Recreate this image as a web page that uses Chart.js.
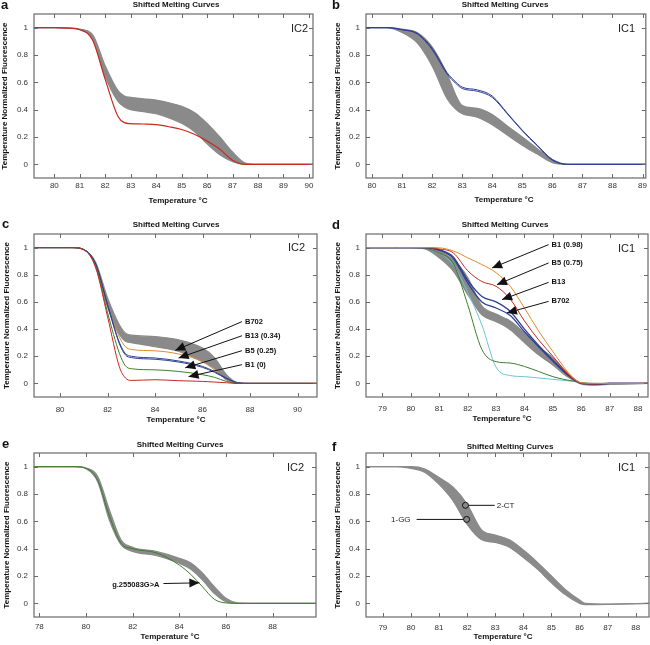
<!DOCTYPE html>
<html>
<head>
<meta charset="utf-8">
<script src="https://cdn.jsdelivr.net/npm/chart.js@4.4.0/dist/chart.umd.min.js"></script>
<style>
  body { margin: 0; background: #fff; }
  #wrap { position: relative; width: 650px; height: 645px; overflow: hidden; }
  canvas { position: absolute; }
</style>
</head>
<body>
<div id="wrap">
  <canvas id="pa" width="325" height="215" style="left:0;top:0"></canvas>
  <canvas id="pb" width="325" height="215" style="left:325px;top:0"></canvas>
  <canvas id="pc" width="325" height="215" style="left:0;top:215px"></canvas>
  <canvas id="pd" width="325" height="215" style="left:325px;top:215px"></canvas>
  <canvas id="pe" width="325" height="215" style="left:0;top:430px"></canvas>
  <canvas id="pf" width="325" height="215" style="left:325px;top:430px"></canvas>
</div>
<script>
// shared
const yTicks = [0, 0.2, 0.4, 0.6, 0.8, 1];

// a - IC2
const tempA   = [79.2, 80, 80.5, 81, 81.5, 82, 82.5, 82.75, 83, 83.5, 84, 84.5, 85, 85.5, 86, 86.5, 87, 87.5, 88, 89, 90.2];
const grayHiA = [1, 1, 0.998, 0.99, 0.95, 0.72, 0.54, 0.50, 0.49, 0.48, 0.47, 0.45, 0.425, 0.38, 0.30, 0.20, 0.09, 0.01, 0, 0, 0];
const grayLoA = [1, 1, 0.997, 0.985, 0.92, 0.64, 0.46, 0.42, 0.40, 0.385, 0.37, 0.34, 0.30, 0.24, 0.15, 0.07, 0.02, 0, 0, 0, 0];
const redA    = [1, 1, 0.997, 0.985, 0.91, 0.62, 0.35, 0.305, 0.298, 0.295, 0.29, 0.275, 0.255, 0.22, 0.17, 0.11, 0.03, 0, 0, 0, 0];
const xTicksA = [80, 81, 82, 83, 84, 85, 86, 87, 88, 89, 90];

// b - IC1
const tempB   = [79.8, 80.5, 81, 81.5, 82, 82.5, 82.8, 83, 83.5, 84, 84.5, 85, 85.5, 86, 86.5, 87, 88, 89.2];
const grayHiB = [1, 1, 0.99, 0.965, 0.86, 0.66, 0.50, 0.43, 0.41, 0.365, 0.28, 0.20, 0.115, 0.035, 0, 0, 0, 0];
const grayLoB = [1, 1, 0.965, 0.89, 0.72, 0.48, 0.40, 0.37, 0.345, 0.29, 0.215, 0.14, 0.075, 0.012, 0, 0, 0, 0];
const blueB1  = [1, 1, 0.985, 0.96, 0.85, 0.67, 0.60, 0.565, 0.545, 0.50, 0.375, 0.25, 0.14, 0.035, 0, 0, 0, 0];
const blueB2  = [1, 1, 0.985, 0.955, 0.84, 0.66, 0.59, 0.555, 0.535, 0.49, 0.37, 0.245, 0.135, 0.03, 0, 0, 0, 0];
const xTicksB = [80, 81, 82, 83, 84, 85, 86, 87, 88, 89];

// c - IC2
const tempC    = [78.9, 80, 80.5, 81, 81.5, 82, 82.5, 82.75, 83, 84, 85, 86, 86.5, 87, 87.5, 88, 90.8];
const grayHiC  = [1, 1, 1, 0.985, 0.89, 0.63, 0.43, 0.37, 0.355, 0.345, 0.32, 0.26, 0.19, 0.065, 0.005, 0, 0];
const grayLoC  = [1, 1, 1, 0.985, 0.87, 0.56, 0.36, 0.31, 0.30, 0.27, 0.236, 0.16, 0.11, 0.027, 0, 0, 0];
const orangeC  = [1, 1, 1, 0.985, 0.875, 0.57, 0.34, 0.27, 0.25, 0.24, 0.216, 0.16, 0.10, 0.035, 0, 0, 0];
const blueC1   = [1, 1, 1, 0.985, 0.88, 0.58, 0.30, 0.22, 0.20, 0.187, 0.165, 0.125, 0.088, 0.04, 0.005, 0, 0];
const blueC2   = [1, 1, 1, 0.985, 0.878, 0.575, 0.29, 0.21, 0.19, 0.178, 0.157, 0.118, 0.082, 0.036, 0.003, 0, 0];
const greenC   = [1, 1, 1, 0.985, 0.86, 0.52, 0.22, 0.13, 0.108, 0.10, 0.088, 0.064, 0.045, 0.015, 0, 0, 0];
const redC     = [1, 1, 1, 0.985, 0.85, 0.49, 0.12, 0.04, 0.022, 0.027, 0.02, 0.015, 0.01, 0.005, 0, 0, 0];
const xTicksC  = [80, 82, 84, 86, 88, 90];
const notesC = [
  { text: 'B702',       tail: [87.66, 0.455], tip: [84.85, 0.243] },
  { text: 'B13 (0.34)', tail: [87.66, 0.351], tip: [84.99, 0.187] },
  { text: 'B5 (0.25)',  tail: [87.66, 0.241], tip: [85.27, 0.115] },
  { text: 'B1 (0)',     tail: [87.66, 0.138], tip: [85.41, 0.05] }
];

// d - IC1
const tempD    = [78.4, 79.5, 80, 80.5, 81, 81.5, 82, 82.5, 83, 83.5, 84, 84.5, 85, 85.5, 85.8, 86, 86.5, 87, 88.4];
const grayHiD  = [1, 1, 1, 0.995, 0.975, 0.91, 0.78, 0.57, 0.51, 0.46, 0.37, 0.27, 0.19, 0.08, 0.025, 0, -0.01, -0.005, 0];
const grayLoD  = [1, 1, 1, 0.99, 0.925, 0.825, 0.655, 0.505, 0.455, 0.395, 0.30, 0.21, 0.135, 0.05, 0.015, -0.005, -0.012, -0.008, 0];
const orangeD  = [1, 1, 1, 1, 0.998, 0.975, 0.925, 0.875, 0.815, 0.715, 0.555, 0.385, 0.235, 0.09, 0.025, 0.005, 0, 0, 0];
const redD     = [1, 1, 1, 1, 0.99, 0.96, 0.83, 0.75, 0.715, 0.62, 0.46, 0.32, 0.20, 0.075, 0.02, 0, -0.005, 0, 0];
const blueD1   = [1, 1, 1, 1, 0.985, 0.93, 0.76, 0.64, 0.60, 0.53, 0.40, 0.28, 0.17, 0.07, 0.02, 0, -0.005, 0, 0];
const blueD2   = [1, 1, 1, 1, 0.98, 0.92, 0.74, 0.60, 0.555, 0.50, 0.38, 0.27, 0.165, 0.065, 0.02, 0, -0.005, 0, 0];
const greenD   = [1, 1, 1, 0.995, 0.96, 0.88, 0.58, 0.25, 0.16, 0.15, 0.125, 0.088, 0.05, 0.025, 0.015, 0.005, 0, 0, 0];
const cyanD    = [1, 1, 1, 0.995, 0.96, 0.87, 0.67, 0.43, 0.12, 0.058, 0.05, 0.04, 0.03, 0.02, 0.012, 0.005, 0, 0, 0];
const xTicksD  = [79, 80, 81, 82, 83, 84, 85, 86, 87, 88];
const notesD = [
  { text: 'B1 (0.98)', tail: [84.85, 1.022], tip: [82.86, 0.85] },
  { text: 'B5 (0.75)', tail: [84.85, 0.887], tip: [83.03, 0.727] },
  { text: 'B13',       tail: [84.85, 0.744], tip: [83.21, 0.617] },
  { text: 'B702',      tail: [84.85, 0.604], tip: [83.38, 0.519] }
];

// e - IC2
const tempE    = [77.77, 79, 79.5, 80, 80.5, 81, 81.5, 82, 83, 84, 84.5, 85, 85.5, 86, 86.5, 87, 89.9];
const grayHiE  = [1, 1, 1, 0.99, 0.93, 0.685, 0.465, 0.41, 0.38, 0.33, 0.295, 0.22, 0.122, 0.037, 0.003, 0, 0];
const grayLoE  = [1, 1, 1, 0.985, 0.89, 0.61, 0.43, 0.38, 0.35, 0.293, 0.25, 0.17, 0.073, 0.012, 0, 0, 0];
const greenE   = [1, 1, 1, 0.988, 0.90, 0.64, 0.44, 0.40, 0.37, 0.28, 0.21, 0.12, 0.03, 0.003, 0, 0, 0];
const xTicksE  = [78, 80, 82, 84, 86, 88];
const notesE = [
  { text: 'g.255083G>A', tail: [83.32, 0.145], tip: [84.86, 0.15], side: 'left' }
];

// f - IC1
const tempF    = [78.4, 79.5, 80, 80.5, 81, 81.5, 82, 82.5, 83, 83.5, 84, 84.5, 85, 85.5, 86, 86.2, 87, 88.5];
const grayHiF  = [1, 1, 1, 0.983, 0.92, 0.85, 0.725, 0.54, 0.50, 0.465, 0.39, 0.30, 0.20, 0.10, 0.025, 0, -0.005, 0];
const grayLoF  = [1, 1, 0.988, 0.958, 0.87, 0.75, 0.577, 0.467, 0.445, 0.41, 0.335, 0.25, 0.15, 0.062, 0, -0.01, -0.008, 0];
const xTicksF  = [79, 80, 81, 82, 83, 84, 85, 86, 87, 88];
const marksF = [
  { text: '2-CT', at: [81.94, 0.717], end: [82.98, 0.717], side: 'right' },
  { text: '1-GG', at: [81.98, 0.614], end: [80.2, 0.614], side: 'left' }
];

const FONT = '"Liberation Sans", Arial, Helvetica, sans-serif';
const GRAY = '#8a8a8a';
const RED = '#c8281e';
const BLUE = '#2e3f96';
const ORANGE = '#e0892e';
const GREEN = '#3d7d2c';
const CYAN = '#6cc3d6';

const pts = (xs, ys) => xs.map((x, i) => ({ x: x, y: ys[i] }));

function line(xs, ys, color, w) {
  return { data: pts(xs, ys), borderColor: color, borderWidth: w || 1, fill: false };
}
function band(xs, hi, lo) {
  return [
    { data: pts(xs, hi), borderColor: GRAY, borderWidth: 1.2, backgroundColor: GRAY, fill: '+1' },
    { data: pts(xs, lo), borderColor: GRAY, borderWidth: 1.2, fill: false }
  ];
}

function arrow(ctx, x1, y1, x2, y2) {
  ctx.beginPath(); ctx.moveTo(x1, y1); ctx.lineTo(x2, y2); ctx.stroke();
  const a = Math.atan2(y2 - y1, x2 - x1), L = 10, W = 4.5;
  ctx.beginPath();
  ctx.moveTo(x2, y2);
  ctx.lineTo(x2 - L * Math.cos(a) + W * Math.sin(a), y2 - L * Math.sin(a) - W * Math.cos(a));
  ctx.lineTo(x2 - L * Math.cos(a) - W * Math.sin(a), y2 - L * Math.sin(a) + W * Math.cos(a));
  ctx.closePath(); ctx.fill();
}

// frame, inward ticks, titles, annotations
const panelDecor = {
  id: 'panelDecor',
  afterDraw(chart, args, o) {
    const { ctx, chartArea: ca, scales: { x, y } } = chart;
    ctx.save();
    ctx.strokeStyle = '#6a6a6a';
    ctx.lineWidth = 1.2;
    ctx.strokeRect(ca.left, ca.top, ca.right - ca.left, ca.bottom - ca.top);
    ctx.lineWidth = 1;
    ctx.beginPath();
    x.ticks.forEach(t => {
      const px = Math.round(x.getPixelForValue(t.value)) + 0.5;
      ctx.moveTo(px, ca.bottom); ctx.lineTo(px, ca.bottom - 4);
      ctx.moveTo(px, ca.top); ctx.lineTo(px, ca.top + 4);
    });
    y.ticks.forEach(t => {
      const py = Math.round(y.getPixelForValue(t.value)) + 0.5;
      ctx.moveTo(ca.left, py); ctx.lineTo(ca.left + 4, py);
      ctx.moveTo(ca.right, py); ctx.lineTo(ca.right - 4, py);
    });
    ctx.stroke();

    ctx.fillStyle = '#111';
    ctx.textBaseline = 'middle';
    ctx.textAlign = 'center';
    ctx.font = 'bold 8px ' + FONT;
    ctx.fillText('Shifted Melting Curves', o.title[0], o.title[1]);
    ctx.fillText('Temperature °C', o.xtitle[0], o.xtitle[1]);
    ctx.save();
    ctx.translate(o.ytitle, (ca.top + ca.bottom) / 2);
    ctx.rotate(-Math.PI / 2);
    ctx.fillText('Temperature Normalized Fluorescence', 0, 0);
    ctx.restore();

    ctx.textBaseline = 'alphabetic';
    ctx.textAlign = 'left';
    ctx.font = 'bold 13px ' + FONT;
    ctx.fillText(o.letter[0], o.letter[1], o.letter[2]);
    ctx.textAlign = 'right';
    ctx.font = '11px ' + FONT;
    ctx.fillStyle = '#222';
    ctx.fillText(o.ic[0], o.ic[1], o.ic[2]);

    ctx.strokeStyle = '#111';
    ctx.fillStyle = '#111';
    ctx.lineWidth = 1;
    ctx.textBaseline = 'middle';
    (o.notes || []).forEach(n => {
      const tx = x.getPixelForValue(n.tail[0]), ty = y.getPixelForValue(n.tail[1]);
      arrow(ctx, tx, ty, x.getPixelForValue(n.tip[0]), y.getPixelForValue(n.tip[1]));
      ctx.font = 'bold 7.5px ' + FONT;
      if (n.side === 'left') { ctx.textAlign = 'right'; ctx.fillText(n.text, tx - 4, ty + 1); }
      else { ctx.textAlign = 'left'; ctx.fillText(n.text, tx + 3, ty); }
    });
    (o.marks || []).forEach(m => {
      const cx = x.getPixelForValue(m.at[0]), cy = y.getPixelForValue(m.at[1]);
      const ex = x.getPixelForValue(m.end[0]);
      ctx.beginPath();
      ctx.moveTo(m.side === 'right' ? cx + 3 : cx - 3, cy); ctx.lineTo(ex, cy); ctx.stroke();
      ctx.beginPath(); ctx.arc(cx, cy, 3, 0, Math.PI * 2); ctx.stroke();
      ctx.font = '8px ' + FONT;
      ctx.fillStyle = '#222';
      if (m.side === 'right') { ctx.textAlign = 'left'; ctx.fillText(m.text, ex + 2, cy); }
      else { ctx.textAlign = 'right'; ctx.fillText(m.text, ex - 6, cy); }
    });
    ctx.restore();
  }
};

function makePanel(id, p) {
  const tickFont = { family: FONT, size: 8 };
  // the axes get exactly the left / bottom margin, so the plot box lands where it should
  new Chart(document.getElementById(id), {
    type: 'line',
    data: { datasets: p.datasets },
    options: {
      responsive: false,
      animation: false,
      layout: { padding: { left: 0, bottom: 0, top: p.pad.top, right: p.pad.right } },
      elements: { point: { radius: 0 }, line: { cubicInterpolationMode: 'monotone' } },
      plugins: { legend: { display: false }, tooltip: { enabled: false }, panelDecor: p.decor },
      scales: {
        x: {
          type: 'linear', min: p.xMin, max: p.xMax,
          afterBuildTicks: s => { s.ticks = p.xTicks.map(v => ({ value: v })); },
          afterFit: s => { s.height = p.pad.bottom; },
          grid: { display: false, drawTicks: false }, border: { display: false },
          ticks: { padding: p.xPad, color: '#333', font: tickFont, maxRotation: 0, autoSkip: false, callback: v => String(v) }
        },
        y: {
          type: 'linear', min: -0.1, max: 1.1,
          afterBuildTicks: s => { s.ticks = yTicks.map(v => ({ value: v })); },
          afterFit: s => { s.width = p.pad.left; },
          grid: { display: false, drawTicks: false }, border: { display: false },
          ticks: { padding: 6, color: '#333', font: tickFont, autoSkip: false, callback: v => String(v) }
        }
      }
    },
    plugins: [panelDecor]
  });
}

makePanel('pa', {
  xMin: 79.2, xMax: 90.16, xTicks: xTicksA, xPad: 3,
  pad: { left: 34, top: 14, right: 12, bottom: 37 },
  datasets: [line(tempA, redA, RED, 1.2), ...band(tempA, grayHiA, grayLoA)],
  decor: { title: [176, 5], xtitle: [178, 201], ytitle: 5, letter: ['a', 1, 9], ic: ['IC2', 308, 32] }
});

makePanel('pb', {
  xMin: 79.8, xMax: 89.11, xTicks: xTicksB, xPad: 3,
  pad: { left: 41, top: 14, right: 3, bottom: 37 },
  datasets: [line(tempB, blueB1, BLUE), line(tempB, blueB2, BLUE), ...band(tempB, grayHiB, grayLoB)],
  decor: { title: [180, 5], xtitle: [179, 200], ytitle: 13, letter: ['b', 7, 9], ic: ['IC1', 310, 32] }
});

makePanel('pc', {
  xMin: 78.9, xMax: 90.82, xTicks: xTicksC, xPad: 8,
  pad: { left: 34, top: 19, right: 8, bottom: 33 },
  datasets: [
    line(tempC, redC, RED), line(tempC, greenC, GREEN),
    line(tempC, blueC1, BLUE), line(tempC, blueC2, BLUE),
    line(tempC, orangeC, ORANGE), ...band(tempC, grayHiC, grayLoC)
  ],
  decor: { title: [176, 10], xtitle: [176, 205], ytitle: 7, letter: ['c', 2, 13], ic: ['IC2', 305, 36], notes: notesC }
});

makePanel('pd', {
  xMin: 78.42, xMax: 88.35, xTicks: xTicksD, xPad: 7,
  pad: { left: 41, top: 19, right: 2, bottom: 33 },
  datasets: [
    line(tempD, orangeD, ORANGE), line(tempD, redD, RED),
    line(tempD, blueD1, BLUE, 1.3), line(tempD, blueD2, BLUE, 1.3),
    line(tempD, greenD, GREEN), line(tempD, cyanD, CYAN),
    ...band(tempD, grayHiD, grayLoD)
  ],
  decor: { title: [180, 10], xtitle: [177, 204], ytitle: 13, letter: ['d', 7, 14], ic: ['IC1', 310, 37], notes: notesD }
});

makePanel('pe', {
  xMin: 77.77, xMax: 89.86, xTicks: xTicksE, xPad: 5,
  pad: { left: 34, top: 23, right: 9, bottom: 28 },
  datasets: [line(tempE, greenE, GREEN), ...band(tempE, grayHiE, grayLoE)],
  decor: { title: [180, 15], xtitle: [170, 207], ytitle: 7, letter: ['e', 2, 18], ic: ['IC2', 304, 41], notes: notesE }
});

makePanel('pf', {
  xMin: 78.4, xMax: 88.47, xTicks: xTicksF, xPad: 6,
  pad: { left: 41, top: 23, right: 1, bottom: 28 },
  datasets: [...band(tempF, grayHiF, grayLoF)],
  decor: { title: [185, 17], xtitle: [178, 207], ytitle: 13, letter: ['f', 7, 21], ic: ['IC1', 310, 41], marks: marksF }
});
</script>
</body>
</html>
